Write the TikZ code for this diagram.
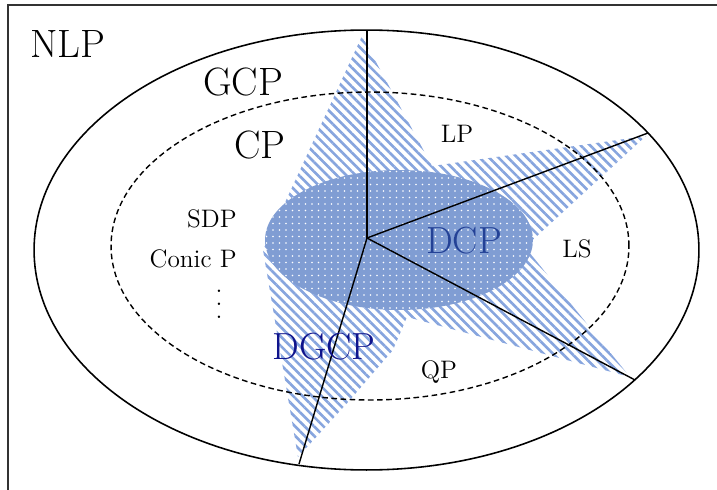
\documentclass[tikz,border=0pt]{standalone}
\usepackage{xcolor}
\usetikzlibrary{positioning, shapes.geometric, patterns.meta}

\definecolor{hatchblue}{RGB}{135,165,222}
\definecolor{dotblue}{RGB}{128,157,211}
\definecolor{dcpblue}{RGB}{35,65,150}
\definecolor{dgcpblue}{RGB}{15,20,140}

\begin{document}
\begin{tikzpicture}[x=0.02cm, y=-0.02cm, every node/.style={inner sep=0pt}, radial/.style={line width=0.8pt}]
        \tikzstyle{bigclass} = [font=\fontsize{22.5}{26}\selectfont, anchor=base]
        \tikzstyle{dclass} = [font=\fontsize{21.5}{25}\selectfont, anchor=base]
        \tikzstyle{smallclass} = [font=\fontsize{14.4}{17}\selectfont, anchor=base]
        \tikzstyle{region} = [ellipse, draw=black, line width=0.9pt, minimum width=13.3cm, minimum height=8.8cm]
        \tikzstyle{cpregion} = [ellipse, draw=black, line width=0.8pt, dash pattern=on 3.2pt off 2pt, minimum width=10.36cm, minimum height=6.16cm]
        \tikzstyle{dcpregion} = [ellipse, fill=dotblue, postaction={pattern={Dots[distance=3.7pt, radius=0.5pt]}, pattern color=white}, minimum width=5.36cm, minimum height=2.8cm]

        \useasboundingbox (0,0) rectangle (717,490);
        \draw[line width=1.1pt, black!80] (8,490) -- (8,5) -- (717,5);

        \fill[pattern={Lines[angle=-45, distance=3.8pt, line width=1.5pt]}, pattern color=hatchblue]
            (362,36) -- (432,166) -- (646,136) -- (525,247) -- (630,377) -- (407,317)
            -- (393,350) -- (350,400) -- (298,457) -- (263,250) -- cycle;

        \node[dcpregion] (dcpzone) at (399,240) {};
        \node[cpregion] (cp) at (370,246) {};
        \node[region] (gcp) at (366.5,250) {};

        \coordinate (hub) at (367,238);
        \coordinate (topend) at (367,30);
        \coordinate (rightend) at (648,133);
        \coordinate (lowend) at (635,380);
        \coordinate (bottomend) at (299,464);
        \draw[radial] (hub) -- (topend);
        \draw[radial] (hub) -- (rightend);
        \draw[radial] (hub) -- (lowend);
        \draw[radial] (hub) -- (bottomend);

        \node[bigclass] (nlp) at (68,57) {NLP};
        \node[bigclass] (gcplabel) at (243,95) {GCP};
        \node[bigclass] (cplabel) at (260,158) {CP};
        \node[smallclass] (lp) at (457,142) {LP};
        \node[smallclass, anchor=base east] (sdp) at (237,227) {SDP};
        \node[smallclass, anchor=base east] (conic) at (237,267) {Conic P};
        \node[font=\fontsize{14.4}{7.4}\selectfont, align=center] (dots) at (219,304) {.\\.\\.};
        \node[dclass, dcpblue] (dcp) at (464,253) {DCP};
        \node[smallclass] (ls) at (577,257) {LS};
        \node[dclass, dgcpblue] (dgcp) at (324,359) {DGCP};
        \node[smallclass] (qp) at (439,378) {QP};
    \end{tikzpicture}
\end{document}
